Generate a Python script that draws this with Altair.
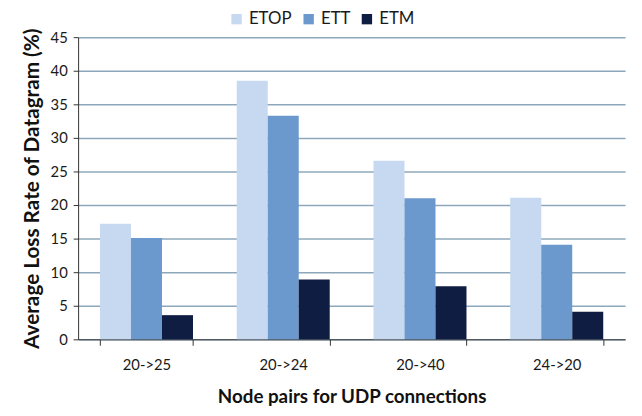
import altair as alt
import pandas as pd

pairs = ["20->25", "20->24", "20->40", "24->20"]
series = ["ETOP", "ETT", "ETM"]
etop = [17.2, 38.5, 26.6, 21.1]
ett = [15.1, 33.3, 21.0, 14.1]
etm = [3.6, 8.9, 7.9, 4.1]
colors = ["#c6d9f0", "#6b98cd", "#0f1d42"]
y_ticks = [0, 5, 10, 15, 20, 25, 30, 35, 40, 45]

rows = []
for name, vals in zip(series, [etop, ett, etm]):
    for p, v in zip(pairs, vals):
        rows.append({"pair": p, "series": name, "value": v})
df = pd.DataFrame(rows)

FONT = "Lato"

chart = alt.Chart(df).mark_bar().encode(
    x=alt.X(
        "pair:N", sort=pairs, title="Node pairs for UDP connections",
        scale=alt.Scale(paddingInner=0.32, paddingOuter=0.16),
        axis=alt.Axis(labelAngle=0, tickBand="extent", grid=False, domainColor="#333333",
                      tickColor="#333333", tickSize=6, labelFontSize=15, labelColor="#1a1a1a",
                      labelPadding=13, titleFontSize=19, titleFontWeight="bold",
                      titlePadding=15, titleColor="#111111", labelFont=FONT, titleFont=FONT),
    ),
    xOffset=alt.XOffset("series:N", sort=series, scale=alt.Scale(paddingInner=0, paddingOuter=0)),
    y=alt.Y(
        "value:Q", title="Average Loss Rate of Datagram (%)",
        scale=alt.Scale(domain=[0, 45], nice=False),
        axis=alt.Axis(values=y_ticks, grid=True, gridColor="#8ea8bb", gridWidth=1.5,
                      domainColor="#333333", tickColor="#333333", tickSize=5,
                      labelFontSize=15, labelColor="#1a1a1a", labelPadding=6,
                      titleFontSize=21, titleFontWeight="bold", titleColor="#111111",
                      titlePadding=8, labelFont=FONT, titleFont=FONT),
    ),
    color=alt.Color(
        "series:N", sort=series,
        scale=alt.Scale(domain=series, range=colors),
        legend=alt.Legend(title=None, orient="none", direction="horizontal",
                          legendX=152, legendY=-27, symbolType="square", symbolSize=110,
                          symbolStrokeWidth=0, labelFontSize=17, labelFont=FONT,
                          labelColor="#1a1a1a", columnPadding=8, labelOffset=4),
    ),
).properties(
    width=554, height=306,
    autosize=alt.AutoSizeParams(type="none"),
    padding={"left": 71, "top": 27, "right": 9, "bottom": 67},
).configure_view(stroke=None)

chart.save("out.html", embed_options={"renderer": "svg", "actions": False})
